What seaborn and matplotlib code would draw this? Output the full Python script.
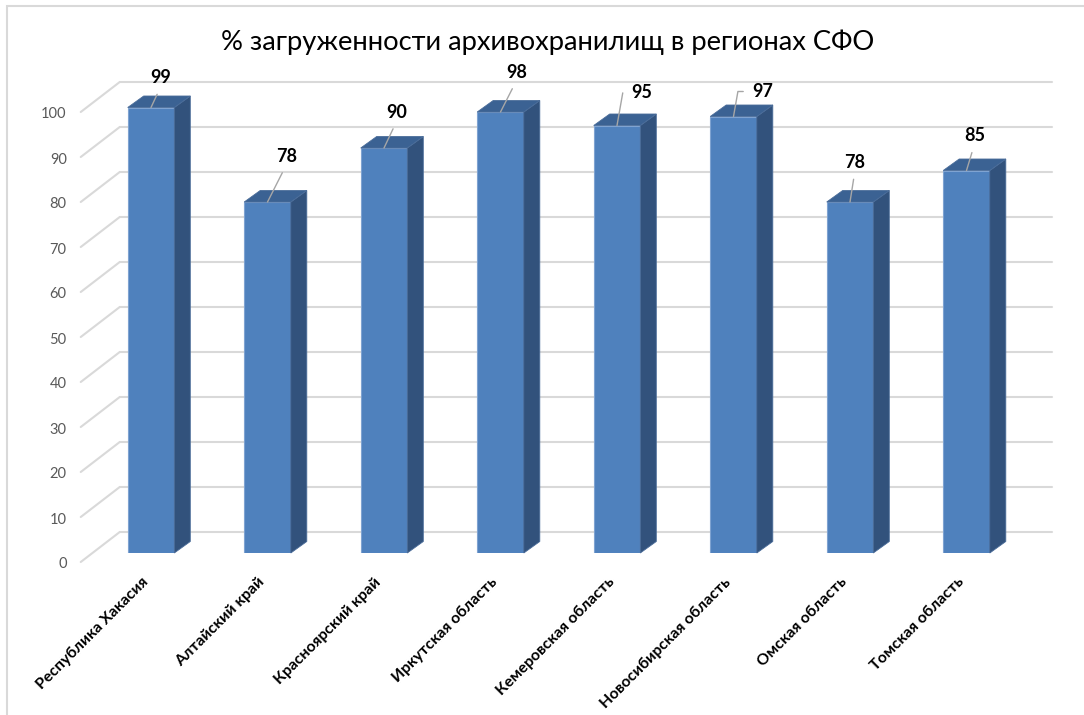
import matplotlib
import pandas as pd
import seaborn as sns
from matplotlib import pyplot as plt
from matplotlib.patches import Polygon, Rectangle
from matplotlib.transforms import ScaledTranslation

matplotlib.use('agg')

regions = ["Республика Хакасия", "Алтайский край", "Красноярский край",
           "Иркутская область", "Кемеровская область", "Новосибирская область",
           "Омская область", "Томская область"]
load_pct = [99, 78, 90, 98, 95, 97, 78, 85]
y_ticks = list(range(0, 101, 10))
title = "% загруженности архивохранилищ в регионах СФО"

# где стоят подписи значений (пиксели от центра верхнего края столбца) и вид выноски
label_shift = [(10, 30), (19, 46), (13, 36), (16, 40), (25, 33), (29, 25), (5, 40), (8, 35)]
leader_kind = ["line", "line", "line", "line", "elbow", "elbow", "line", "line"]

FRONT = "#4F81BD"
SIDE = "#32527C"
TOP = "#3B6293"
GRID = "#D9D9D9"
DPI = 100

sns.set_theme(style="white")
plt.rcParams['font.family'] = ['Lato', 'DejaVu Sans']

df = pd.DataFrame({"регион": regions, "загрузка": load_pct})

fig = plt.figure(figsize=(10.84, 7.15), dpi=DPI)
ax = fig.add_axes([92.75 / 1084, 162 / 715, 932 / 1084, 450 / 715])
sns.barplot(df, x="регион", y="загрузка", ax=ax, color=FRONT, width=0.4,
            saturation=1, edgecolor="#7FA3D1", linewidth=0.8, zorder=3)
ax.set_xlim(-0.5, len(regions) - 0.5)
ax.set_ylim(0, 100)
ax.axis('off')


def shift(px, py):
    return ax.transData + ScaledTranslation(px / DPI, py / DPI, fig.dpi_scale_trans)


# размер пикселя в единицах данных
x0, y0 = ax.transData.transform((0, 0))
x1, y1 = ax.transData.transform((1, 1))
ux, uy = 1 / (x1 - x0), 1 / (y1 - y0)

# задняя стенка и левая грань
for v in y_ticks:
    ax.plot([-0.5, len(regions) - 0.5], [v, v], color=GRID, lw=1.5,
            transform=shift(27, 21), clip_on=False, zorder=1)
    ax.plot([-0.5 - 12 * ux, -0.5 + 27 * ux], [v - 9 * uy, v + 21 * uy], color=GRID,
            lw=1.5, clip_on=False, zorder=1)
    ax.text(-0.5, v, str(v), transform=shift(-26, -10), ha='right',
            va='center_baseline', fontsize=10.5, color="#595959")

# объём столбцов
dx, dy = 16 * ux, 11.5 * uy
for bar in ax.patches[:len(regions)]:
    x, w, h = bar.get_x(), bar.get_width(), bar.get_height()
    side = [(x + w, 0), (x + w + dx, dy), (x + w + dx, h + dy), (x + w, h)]
    top = [(x, h), (x + dx, h + dy), (x + w + dx, h + dy), (x + w, h)]
    ax.add_patch(Polygon(side, closed=True, facecolor=SIDE, edgecolor="#4A6C99",
                         lw=0.6, clip_on=False, zorder=3))
    ax.add_patch(Polygon(top, closed=True, facecolor=TOP, edgecolor="#4A6C99",
                         lw=0.6, clip_on=False, zorder=3))

# подписи значений с выносками
for i, v in enumerate(load_pct):
    sx, sy = label_shift[i]
    if leader_kind[i] == "elbow":
        arrow = dict(arrowstyle='-', color="#A6A6A6", lw=1, shrinkA=4, shrinkB=0,
                     relpos=(0, 0.5), connectionstyle="angle,angleA=0,angleB=80,rad=0")
    else:
        arrow = dict(arrowstyle='-', color="#A6A6A6", lw=1, shrinkA=4, shrinkB=0,
                     relpos=(0.5, 0))
    ax.annotate(str(v), xy=(i, v), xytext=(sx, sy), textcoords='offset pixels',
                ha='center', va='center', fontsize=13, fontweight='bold',
                color="black", arrowprops=arrow, zorder=5, annotation_clip=False)

# подписи категорий
for i, name in enumerate(regions):
    ax.text(i, 0, name, transform=shift(-5, -27), rotation=45, ha='right',
            va='center', rotation_mode='anchor', fontsize=11.3, fontweight='bold',
            color="black")

fig.text(0.505, 1 - 42 / 715, title, ha='center', va='center', fontsize=19.7,
         color="black")
fig.add_artist(Rectangle((7 / 1084, -0.1), 1.2, (715 - 6) / 715 + 0.1,
                         transform=fig.transFigure, fill=False, edgecolor=GRID, lw=1.5))

fig.savefig("out.png", dpi=DPI)
plt.close(fig)
